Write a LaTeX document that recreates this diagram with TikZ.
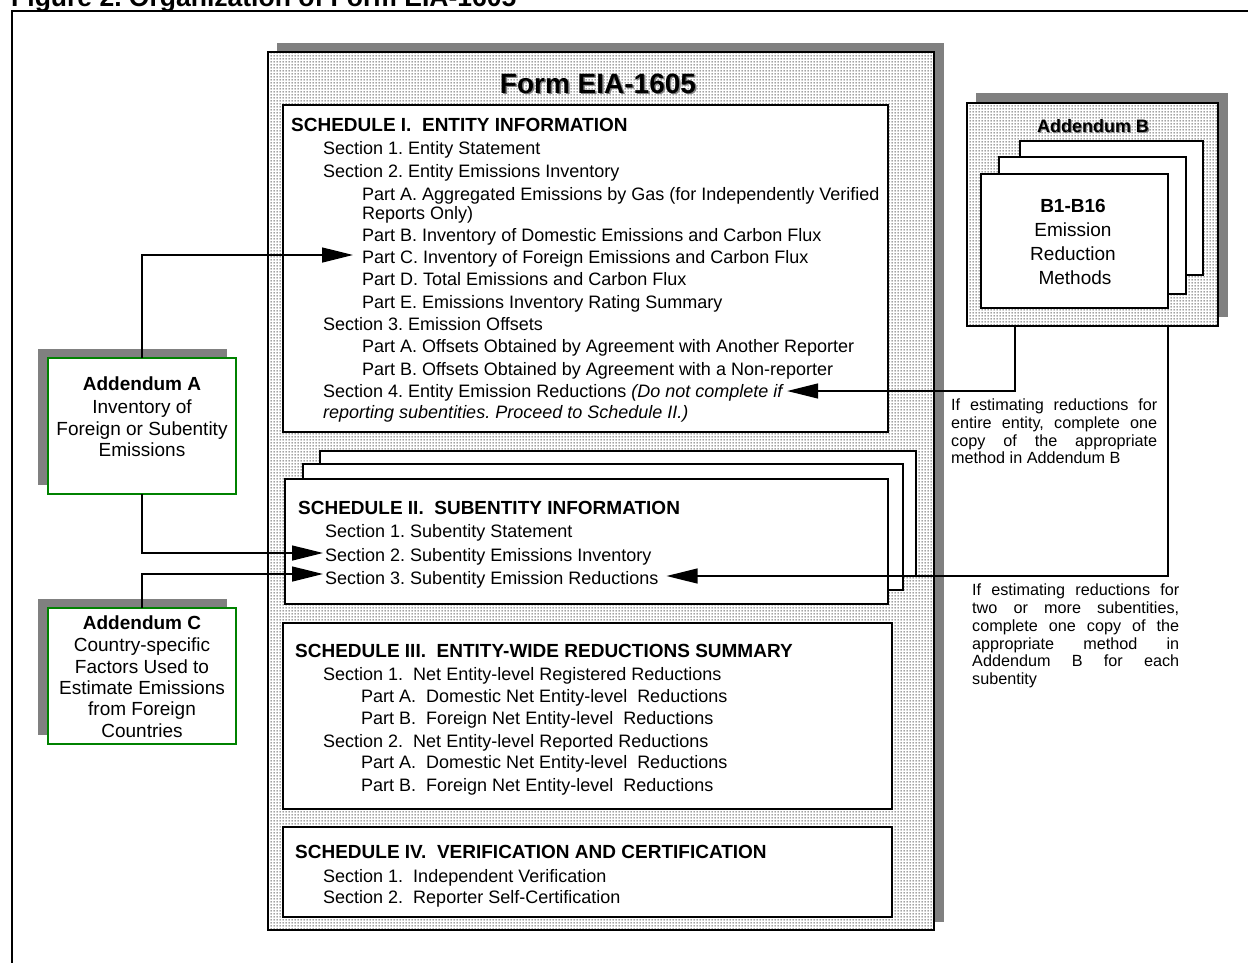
\documentclass[tikz,border=0pt]{standalone}
\usepackage{fontspec}
\setmainfont{Liberation Sans}
\usetikzlibrary{patterns,calc,arrows.meta}
\definecolor{shadowgray}{RGB}{128,128,128}
\definecolor{addgreen}{RGB}{0,130,0}
\frenchspacing
\pgfdeclarepatternformonly{finedots}{\pgfqpoint{0pt}{0pt}}{\pgfqpoint{3pt}{3pt}}{\pgfqpoint{3pt}{3pt}}{%
  \pgfpathrectangle{\pgfqpoint{0.9pt}{0.9pt}}{\pgfqpoint{1.1pt}{1.1pt}}\pgfusepath{fill}}
\begin{document}
\begin{tikzpicture}[x=1pt,y=-1pt,
  box/.style={anchor=north west, inner sep=0pt, outer sep=0pt, draw=black, fill=white, line width=1.4pt},
  dotbox/.style={anchor=north west, inner sep=0pt, outer sep=0pt, draw=black, line width=1.4pt, preaction={fill=white}, pattern=finedots, pattern color=black!85},
  shadowbox/.style={anchor=north west, inner sep=0pt, outer sep=0pt, fill=shadowgray},
  addbox/.style={anchor=north west, inner sep=0pt, outer sep=0pt, draw=addgreen, fill=white, line width=1.3pt},
  txt/.style={anchor=base west, inner sep=0pt, font=\fontsize{18}{21}\selectfont},
  itxt/.style={anchor=base west, inner sep=0pt, font=\fontsize{18}{21}\selectfont\itshape},
  hdr/.style={anchor=base west, inner sep=0pt, font=\fontsize{19}{22}\selectfont\bfseries},
  ctxt/.style={anchor=base, inner sep=0pt, font=\fontsize{19}{22}\selectfont},
  cbold/.style={anchor=base, inner sep=0pt, font=\fontsize{19}{22}\selectfont\bfseries},
  note/.style={anchor=base west, inner sep=0pt, font=\fontsize{16.2}{18}\selectfont},
  conn/.style={line width=1.3pt, -{Triangle[length=31pt,width=15pt]}}
]
\useasboundingbox (0,0) rectangle (1248,962);

% outer frame and figure title
\draw[line width=2pt] (12,1000) -- (12,11) -- (1300,11);
\node[anchor=base west, inner sep=0pt, font=\fontsize{26.5}{30}\selectfont\bfseries] (figtitle) at (11,6) {Figure 2. Organization of Form EIA-1605};

% main form box
\node[shadowbox, minimum width=667pt, minimum height=879pt] (formshadow) at (277,43) {};
\node[dotbox, minimum width=666pt, minimum height=878pt] (form) at (268,52) {};
\node[anchor=base, inner sep=0pt, font=\fontsize{28}{30}\selectfont\bfseries, text=shadowgray] (formtitleshadow) at (599.5,94.5) {Form EIA-1605};
\node[anchor=base, inner sep=0pt, font=\fontsize{28}{30}\selectfont\bfseries] (formtitle) at (598,93) {Form EIA-1605};

% Schedule I
\node[box, minimum width=605pt, minimum height=327pt] (sch1) at (283,105) {};
\node[hdr] (c1h) at (291,131) {SCHEDULE I.\ \ ENTITY INFORMATION};
\node[txt] (c1s1) at (323,154) {Section 1. Entity Statement};
\node[txt] (c1s2) at (323,177) {Section 2. Entity Emissions Inventory};
\node[txt] (c1pa) at (362,200) {Part A. Aggregated Emissions by Gas (for Independently Verified};
\node[txt] (c1pa2) at (362,219.5) {Reports Only)};
\node[txt] (c1pb) at (362,241) {Part B. Inventory of Domestic Emissions and Carbon Flux};
\node[txt] (c1pc) at (362,263) {Part C. Inventory of Foreign Emissions and Carbon Flux};
\node[txt] (c1pd) at (362,285.5) {Part D. Total Emissions and Carbon Flux};
\node[txt] (c1pe) at (362,308) {Part E. Emissions Inventory Rating Summary};
\node[txt] (c1s3) at (323,330) {Section 3. Emission Offsets};
\node[txt] (c1s3a) at (362,352.5) {Part A. Offsets Obtained by Agreement with Another Reporter};
\node[txt] (c1s3b) at (362,375) {Part B. Offsets Obtained by Agreement with a Non-reporter};
\node[txt] (c1s4a) at (323,397) {Section 4. Entity Emission Reductions \textit{(Do not complete if}};
\node[itxt] (c1s4b) at (323,418) {reporting subentities. Proceed to Schedule II.)};

% Schedule II stack
\node[box, minimum width=596pt, minimum height=125pt] (sch2c) at (320,451) {};
\node[box, minimum width=600pt, minimum height=126pt] (sch2b) at (303,464) {};
\node[box, minimum width=603pt, minimum height=125pt] (sch2) at (285,479) {};
\node[hdr] (c2h) at (298,514) {SCHEDULE II.\ \ SUBENTITY INFORMATION};
\node[txt] (c2s1) at (325,537) {Section 1. Subentity Statement};
\node[txt] (c2s2) at (325,561) {Section 2. Subentity Emissions Inventory};
\node[txt] (c2s3) at (325,584) {Section 3. Subentity Emission Reductions};

% Schedule III
\node[box, minimum width=609pt, minimum height=186pt] (sch3) at (283,623) {};
\node[hdr] (c3h) at (295,657) {SCHEDULE III.\ \ ENTITY-WIDE REDUCTIONS SUMMARY};
\node[txt] (c3s1) at (323,680) {Section 1.\ \ Net Entity-level Registered Reductions};
\node[txt] (c3s1a) at (361,702) {Part A.\ \ Domestic Net Entity-level\ \ Reductions};
\node[txt] (c3s1b) at (361,724) {Part B.\ \ Foreign Net Entity-level\ \ Reductions};
\node[txt] (c3s2) at (323,747) {Section 2.\ \ Net Entity-level Reported Reductions};
\node[txt] (c3s2a) at (361,768) {Part A.\ \ Domestic Net Entity-level\ \ Reductions};
\node[txt] (c3s2b) at (361,791) {Part B.\ \ Foreign Net Entity-level\ \ Reductions};

% Schedule IV
\node[box, minimum width=609pt, minimum height=90pt] (sch4) at (283,827) {};
\node[hdr] (c4h) at (295,858) {SCHEDULE IV.\ \ VERIFICATION AND CERTIFICATION};
\node[txt] (c4s1) at (323,882) {Section 1.\ \ Independent Verification};
\node[txt] (c4s2) at (323,903) {Section 2.\ \ Reporter Self-Certification};

% Addendum B
\node[shadowbox, minimum width=252pt, minimum height=224pt] (addBshadow) at (976,93) {};
\node[dotbox, minimum width=251pt, minimum height=223pt] (addB) at (967,103) {};
\node[anchor=base, inner sep=0pt, font=\fontsize{18}{20}\selectfont\bfseries, text=shadowgray] (addBtitleshadow) at (1094.2,133.2) {Addendum B};
\node[anchor=base, inner sep=0pt, font=\fontsize{18}{20}\selectfont\bfseries] (addBtitle) at (1093,132) {Addendum B};
\node[box, line width=1.2pt, minimum width=183pt, minimum height=134pt] (bcard3) at (1020,141) {};
\node[box, line width=1.2pt, minimum width=187pt, minimum height=137pt] (bcard2) at (999,157) {};
\node[box, line width=1.2pt, minimum width=187pt, minimum height=134pt] (bcard1) at (981,174) {};
\node[cbold] (bt1) at (1073,212) {B1-B16};
\node[ctxt] (bt2) at (1073,236) {Emission};
\node[ctxt] (bt3) at (1073,260) {Reduction};
\node[ctxt] (bt4) at (1075,284) {Methods};

% Addendum A
\node[shadowbox, minimum width=189pt, minimum height=136pt] (addAshadow) at (38,349) {};
\node[addbox, minimum width=188pt, minimum height=136pt] (addA) at (48,358) {};
\node[cbold] (at1) at (142,390) {Addendum A};
\node[ctxt] (at2) at (142,413) {Inventory of};
\node[ctxt] (at3) at (142,435) {Foreign or Subentity};
\node[ctxt] (at4) at (142,456) {Emissions};

% Addendum C
\node[shadowbox, minimum width=189pt, minimum height=136pt] (addCshadow) at (38,599) {};
\node[addbox, minimum width=188pt, minimum height=136pt] (addC) at (48,608) {};
\node[cbold] (ct1) at (142,629) {Addendum C};
\node[ctxt] (ct2) at (142,651) {Country-specific};
\node[ctxt] (ct3) at (142,673) {Factors Used to};
\node[ctxt] (ct4) at (142,694) {Estimate Emissions};
\node[ctxt] (ct5) at (142,715) {from Foreign};
\node[ctxt] (ct6) at (142,737) {Countries};

% notes on the right
\node[note] (n1a) at (951,410) {\makebox[206pt][s]{If estimating reductions for}};
\node[note] (n1b) at (951,428) {\makebox[206pt][s]{entire entity, complete one}};
\node[note] (n1c) at (951,446) {\makebox[206pt][s]{copy of the appropriate}};
\node[note] (n1d) at (951,463) {method in Addendum B};
\node[note] (n2a) at (972,595) {\makebox[207pt][s]{If estimating reductions for}};
\node[note] (n2b) at (972,613) {\makebox[207pt][s]{two or more subentities,}};
\node[note] (n2c) at (972,631) {\makebox[207pt][s]{complete one copy of the}};
\node[note] (n2d) at (972,649) {\makebox[207pt][s]{appropriate method in}};
\node[note] (n2e) at (972,666) {\makebox[207pt][s]{Addendum B for each}};
\node[note] (n2f) at (972,684) {subentity};

% connectors
\draw[conn] (addA.north) |- ($(c1pc.base west)+(-9,-8)$);
\draw[conn] (addA.south) |- ($(c2s2.base west)+(-2,-8)$);
\draw[conn] (addC.north) |- ($(c2s3.base west)+(-2,-10)$);
\draw[conn] ($(addB.south west)+(48,0)$) |- ($(c1s4a.base east)+(3,-6)$);
\draw[conn] ($(addB.south west)+(201,0)$) |- ($(c2s3.base east)+(8,-8)$);
\end{tikzpicture}
\end{document}
